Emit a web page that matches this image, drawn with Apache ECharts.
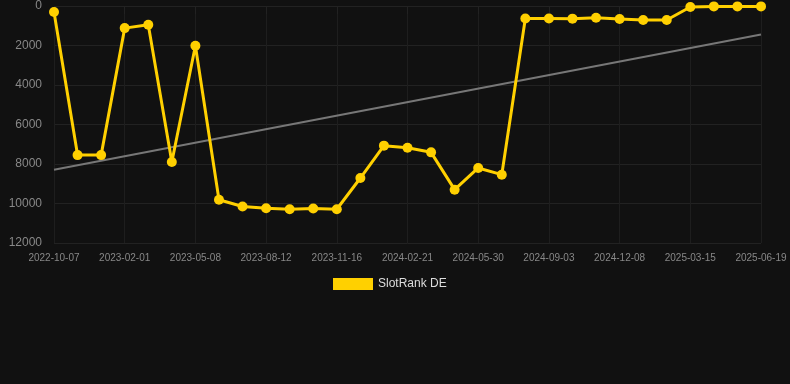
<!DOCTYPE html>
<html>
<head>
<meta charset="utf-8">
<script src="https://cdn.jsdelivr.net/npm/echarts@6/dist/echarts.min.js"></script>
<style>
  html, body { margin: 0; padding: 0; background: #111111; }
  #chart { width: 790px; height: 384px; }
</style>
</head>
<body>
<div id="chart"></div>
<script>
// categories: every third date is shown on the axis, the rest are estimated
var dates = [
  '2022-10-07', '2022-11-15', '2022-12-24', '2023-02-01', '2023-03-05', '2023-04-06',
  '2023-05-08', '2023-06-08', '2023-07-10', '2023-08-12', '2023-09-12', '2023-10-14',
  '2023-11-16', '2023-12-18', '2024-01-19', '2024-02-21', '2024-03-24', '2024-04-26',
  '2024-05-30', '2024-07-01', '2024-08-02', '2024-09-03', '2024-10-05', '2024-11-06',
  '2024-12-08', '2025-01-09', '2025-02-11', '2025-03-15', '2025-04-16', '2025-05-18',
  '2025-06-19'
];
var rankDE = [
  300, 7550, 7550, 1120, 950, 7900,
  2010, 9810, 10150, 10240, 10290, 10250,
  10290, 8710, 7070, 7180, 7410, 9300,
  8200, 8540, 630, 630, 640, 595,
  660, 710, 710, 50, 20, 20,
  20
];
var trend = [8290].concat(new Array(29).fill(null), [1440]);
var yTicks = [0, 12000, 2000]; // min, max, step

var myChart = echarts.init(document.getElementById('chart'));
var option = {
  backgroundColor: '#111111',
  animation: false,
  grid: { left: 54, right: 29, top: 6, bottom: 141 },
  legend: {
    data: ['SlotRank DE'],
    left: 328,
    top: 273,
    itemWidth: 40,
    itemHeight: 12,
    icon: 'rect',
    textStyle: { color: '#dddddd', fontSize: 12, fontFamily: 'Arial, Liberation Sans, sans-serif' }
  },
  xAxis: {
    type: 'category',
    data: dates,
    boundaryGap: false,
    axisLine: { show: false },
    axisTick: { show: true, interval: 2, length: 8, lineStyle: { color: '#222222' } },
    axisLabel: {
      interval: 2,
      color: '#888888',
      fontSize: 10,
      margin: 10,
      fontFamily: 'Arial, Liberation Sans, sans-serif'
    },
    splitLine: { show: true, interval: 2, lineStyle: { color: '#1e1e1e', width: 1 } }
  },
  yAxis: {
    type: 'value',
    inverse: true,
    min: yTicks[0],
    max: yTicks[1],
    interval: yTicks[2],
    axisLine: { show: false },
    axisTick: { show: false },
    axisLabel: {
      color: '#888888',
      fontSize: 12,
      margin: 12,
      formatter: function (v) { return String(v); },
      fontFamily: 'Arial, Liberation Sans, sans-serif'
    },
    splitLine: { lineStyle: { color: '#222222', width: 1 } }
  },
  series: [
    {
      name: 'SlotRank DE',
      type: 'line',
      data: rankDE,
      symbol: 'circle',
      symbolSize: 10,
      z: 3,
      itemStyle: { color: '#ffd000' },
      lineStyle: { color: '#ffd000', width: 3 }
    },
    {
      name: 'trend',
      type: 'line',
      data: trend,
      connectNulls: true,
      symbol: 'none',
      z: 2,
      lineStyle: { color: '#777777', width: 2 },
      silent: true
    }
  ]
};
myChart.setOption(option);
window.addEventListener('resize', function () {
  myChart.resize();
});
</script>
</body>
</html>
